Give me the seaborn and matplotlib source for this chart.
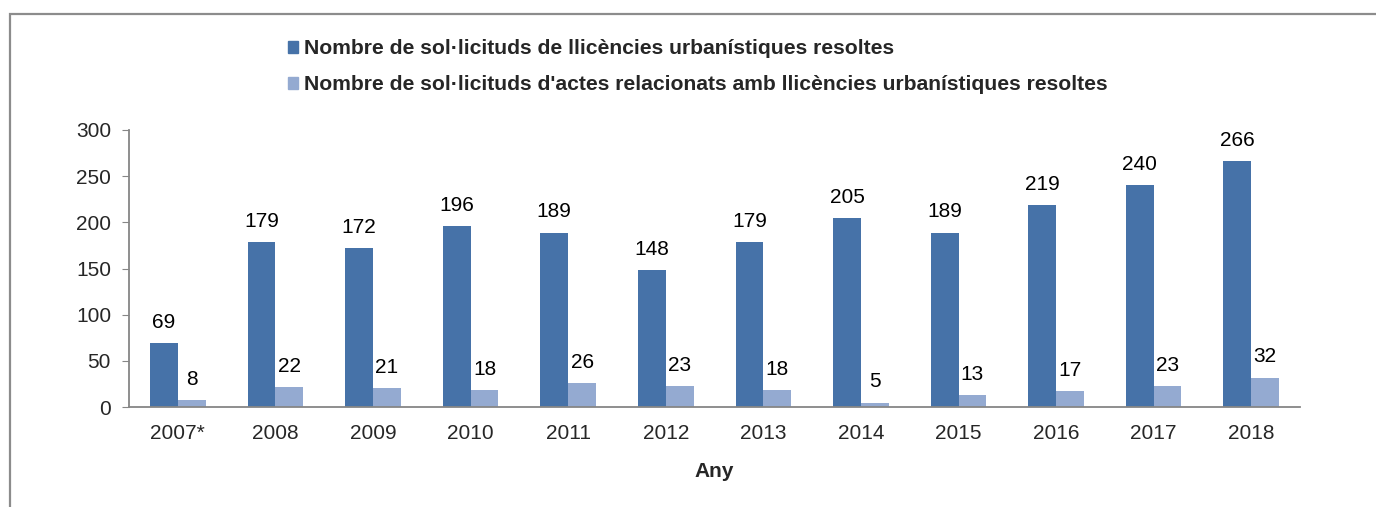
import matplotlib
matplotlib.use("Agg")
import matplotlib.pyplot as plt
import matplotlib.patches as mpatches
import seaborn as sns
import pandas as pd

years = ["2007*", "2008", "2009", "2010", "2011", "2012", "2013", "2014",
         "2015", "2016", "2017", "2018"]
llicencies = [69, 179, 172, 196, 189, 148, 179, 205, 189, 219, 240, 266]
actes = [8, 22, 21, 18, 26, 23, 18, 5, 13, 17, 23, 32]
series_names = [
    "Nombre de sol·licituds de llicències urbanístiques resoltes",
    "Nombre de sol·licituds d'actes relacionats amb llicències urbanístiques resoltes",
]
colors = ["#4672A8", "#94AAD1"]

df = pd.DataFrame({
    "Any": years * 2,
    "valor": llicencies + actes,
    "serie": [series_names[0]] * len(years) + [series_names[1]] * len(years),
})

sns.set_style("white")
plt.rcParams["font.family"] = ["Liberation Sans", "DejaVu Sans"]

fig = plt.figure(figsize=(13.76, 5.07), dpi=100)
ax = fig.add_axes([0.0938, 0.197, 0.851, 0.5466])

sns.barplot(data=df, x="Any", y="valor", hue="serie", palette=colors,
            width=0.57, saturation=1, linewidth=0, ax=ax, legend=False)

for cont in ax.containers:
    ax.bar_label(cont, padding=8, fontsize=15, color="#000000")

ax.set_ylim(0, 300)
ax.set_yticks(range(0, 301, 50))
ax.set_xlim(-0.5, len(years) - 0.5)
ax.set_ylabel("")
ax.set_xlabel("Any", fontsize=15, fontweight="bold", labelpad=14)
ax.tick_params(axis="y", labelsize=15, length=5, color="#868686", pad=8, left=True)
ax.tick_params(axis="x", labelsize=15, length=0, pad=12)
for s in ["top", "right"]:
    ax.spines[s].set_visible(False)
for s in ["left", "bottom"]:
    ax.spines[s].set_color("#868686")
    ax.spines[s].set_linewidth(1.3)

handles = [mpatches.Patch(color=c, label=n) for c, n in zip(colors, series_names)]
fig.legend(handles=handles, loc="upper left", bbox_to_anchor=(277 / 1376, 0.943),
           frameon=False, prop={"weight": "bold", "size": 15.2}, borderpad=0,
           handlelength=0.5, handleheight=0.5, handletextpad=0.3,
           labelspacing=0.8)

# chart frame (top and left edges visible)
frame = mpatches.Rectangle((10 / 1376, -0.1), 1.2, 1 - 14 / 507 + 0.1,
                           transform=fig.transFigure, fill=False,
                           edgecolor="#8C8C8C", linewidth=1.6)
fig.patches.append(frame)

fig.savefig("out.png", dpi=100)
